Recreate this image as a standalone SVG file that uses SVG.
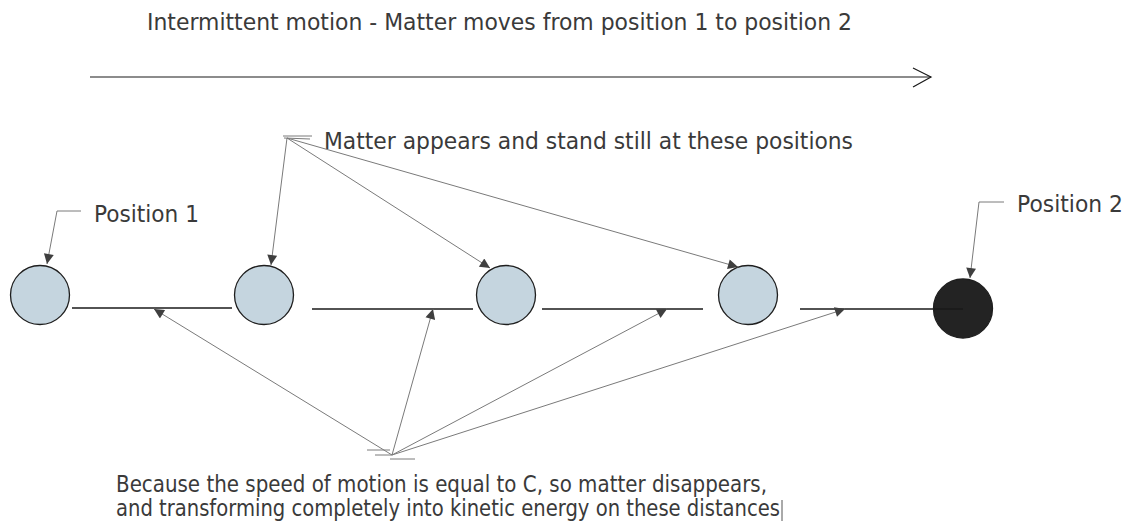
<svg xmlns="http://www.w3.org/2000/svg" width="1133" height="525" viewBox="0 0 1133 525">
<style>
.t{font-family:"DejaVu Sans","Liberation Sans",sans-serif;font-size:23px;fill:#3a3a3a}
.ball{fill:#c5d5df;stroke:#1e1e1e;stroke-width:1.3}
.dark{fill:#232323;stroke:#1e1e1e;stroke-width:1.3}
.seg{stroke:#1a1a1a;stroke-width:1.6;fill:none}
.c{stroke:#7a7a7a;stroke-width:1;fill:none}
.ca{stroke:#7a7a7a;stroke-width:1;fill:none;marker-end:url(#ah)}
</style>
<defs>
<marker id="ah" viewBox="0 0 10 10" refX="10" refY="5" markerWidth="14" markerHeight="10" markerUnits="userSpaceOnUse" orient="auto">
<path d="M0,0 L10,5 L0,10 Z" fill="#3f3f3f"/>
</marker>
</defs>
<rect width="1133" height="525" fill="#ffffff"/>

<g id="title">
<text class="t" x="147" y="30" textLength="705" lengthAdjust="spacingAndGlyphs">Intermittent motion - Matter moves from position 1 to position 2</text>
<line x1="90" y1="77" x2="931" y2="77" stroke="#1a1a1a" stroke-width="1.2"/>
<polyline points="913,68 931,77 913,87" fill="none" stroke="#1a1a1a" stroke-width="1.2"/>
</g>

<g id="path-segments">
<line class="seg" x1="72" y1="308" x2="232" y2="308"/>
<line class="seg" x1="312" y1="309" x2="473" y2="309"/>
<line class="seg" x1="542" y1="309" x2="703" y2="309"/>
<line class="seg" x1="800" y1="309" x2="963" y2="309"/>
</g>

<g id="node-pos1"><circle class="ball" cx="40" cy="295" r="29.5"/></g>
<g id="node-stop1"><circle class="ball" cx="264" cy="295" r="29.5"/></g>
<g id="node-stop2"><circle class="ball" cx="506" cy="295" r="29.5"/></g>
<g id="node-stop3"><circle class="ball" cx="748" cy="295" r="29.5"/></g>
<g id="node-pos2"><circle class="dark" cx="963" cy="308.5" r="29.5"/></g>
<line class="seg" x1="934" y1="309" x2="963" y2="309" stroke="#000"/>

<g id="label-pos1"><text class="t" x="94" y="222" textLength="105" lengthAdjust="spacingAndGlyphs">Position 1</text></g>
<g id="label-pos2"><text class="t" x="1017" y="212" textLength="106" lengthAdjust="spacingAndGlyphs">Position 2</text></g>
<g id="label-stand"><text class="t" x="324" y="149" textLength="529" lengthAdjust="spacingAndGlyphs">Matter appears and stand still at these positions</text></g>
<g id="label-bottom">
<text class="t" x="116" y="492" textLength="651" lengthAdjust="spacingAndGlyphs">Because the speed of motion is equal to C, so matter disappears,</text>
<text class="t" x="116" y="516" textLength="664" lengthAdjust="spacingAndGlyphs">and transforming completely into kinetic energy on these distances</text>
<line x1="782" y1="500" x2="782" y2="521" stroke="#555" stroke-width="1"/>
</g>

<g id="connectors">
<polyline class="ca" points="81,211 57,211 47,264"/>
<polyline class="ca" points="1004,202 979,202 970,278"/>
<line class="c" x1="283" y1="136" x2="312" y2="136"/>
<line class="c" x1="284" y1="138" x2="310" y2="139"/>
<line class="ca" x1="287" y1="138" x2="271" y2="265"/>
<line class="ca" x1="287" y1="138" x2="490" y2="268"/>
<line class="ca" x1="287" y1="138" x2="738" y2="267"/>
<line class="c" x1="367" y1="450" x2="390" y2="450"/>
<line class="c" x1="375" y1="455" x2="392" y2="455"/>
<line class="c" x1="390" y1="459" x2="415" y2="459"/>
<line class="ca" x1="392" y1="455" x2="154" y2="309"/>
<line class="ca" x1="392" y1="455" x2="433" y2="309"/>
<line class="ca" x1="392" y1="455" x2="667" y2="309"/>
<line class="ca" x1="392" y1="455" x2="845" y2="309"/>
</g>
</svg>
